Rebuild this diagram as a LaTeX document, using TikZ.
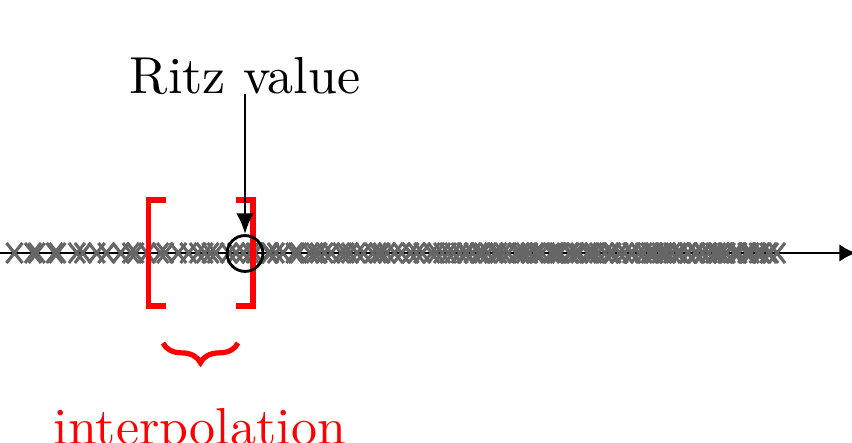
\documentclass[tikz,border=0pt]{standalone}
\usetikzlibrary{arrows.meta,decorations.pathreplacing}
\begin{document}
\begin{tikzpicture}[x=0.1923pt,y=-0.1923pt,
  crossmark/.style={draw=black!60,line width=0.6pt},
  axisline/.style={line width=0.5pt,-{Latex[length=3.2pt,width=3.4pt]}},
  bracketline/.style={red,line width=1.15pt},
  ritzarrow/.style={line width=0.55pt,-{Latex[length=4pt,width=3.4pt]}},
  bracelook/.style={red,line width=1pt,decorate,decoration={brace,amplitude=3.8pt}}]
\useasboundingbox (0,0) rectangle (852,443);
% axis
\coordinate (axL) at (-10,253);
\coordinate (axR) at (856,253);
\draw[axisline] (axL) -- (axR);
% crosses (Ritz values / eigenvalues)
\pgfmathsetseed{11}
\foreach \i in {0,...,129}{
  \pgfmathsetmacro\cc{(\i+1.2*rnd)/131*1975}
  \pgfmathsetmacro\xx{3+(-1+sqrt(1+6*\cc/790))*777/3}
  \draw[crossmark] (\xx-8,243) -- (\xx+8,263) (\xx-8,263) -- (\xx+8,243);
}
% brackets
\draw[bracketline] (166,200) -- (148.5,200) -- (148.5,306) -- (166,306);
\draw[bracketline] (236,200) -- (253,200) -- (253,306) -- (236,306);
% circled Ritz value
\node[circle,draw,line width=0.55pt,minimum size=6.9pt,inner sep=0pt] (rv) at (245,253.5) {};
\node[anchor=base,inner sep=0pt] (ritz) at (245,94) {Ritz value};
\draw[ritzarrow] (ritz.base) -- (rv.north);
% brace and label
\coordinate (brR) at (238,343);
\coordinate (brL) at (163,343);
\draw[bracelook] (brR) -- (brL);
\node[anchor=base,inner sep=0pt,text=red] (interp) at (200,445) {interpolation};
\end{tikzpicture}
\end{document}
